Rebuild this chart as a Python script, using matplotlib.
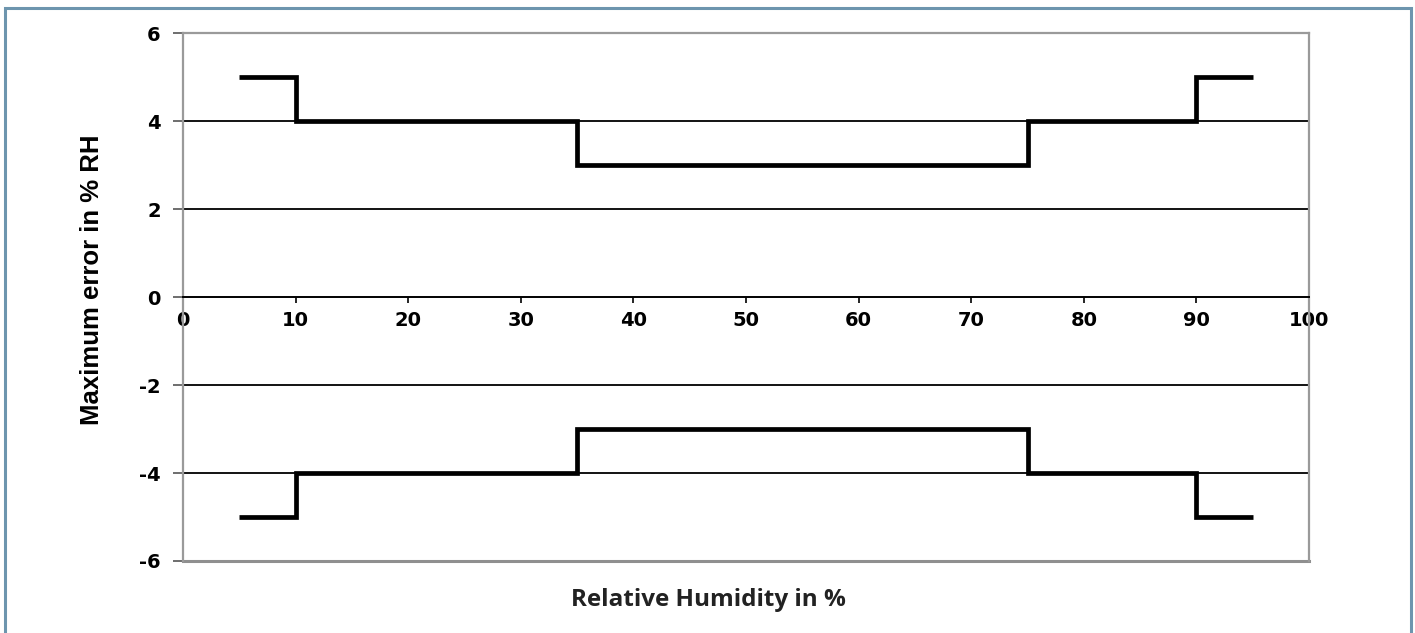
import matplotlib

matplotlib.use("Agg")
import matplotlib.pyplot as plt
from matplotlib.patches import Rectangle

# step edges (relative humidity, %) and max error (% RH) per segment
rh_edges = [5, 10, 35, 75, 90, 95]
err_upper = [5, 4, 3, 4, 5]
err_lower = [-5, -4, -3, -4, -5]

x_ticks = [0, 10, 20, 30, 40, 50, 60, 70, 80, 90, 100]
y_ticks = [-6, -4, -2, 0, 2, 4, 6]
grid_levels = [-4, -2, 2, 4]

W, H, DPI = 1415, 633, 100
fig = plt.figure(figsize=(W / DPI, H / DPI), dpi=DPI)
fig.patch.set_facecolor("white")

# outer panel border
fig.patches.append(
    Rectangle((5 / W, -0.05), 1406 / W, 1.05 - 8 / H, transform=fig.transFigure,
              fill=False, edgecolor="#6d95ae", linewidth=2.2)
)

ax = fig.add_axes([183 / W, 1 - 561 / H, (1309 - 183) / W, (561 - 33) / H])
ax.set_xlim(0, 100)
ax.set_ylim(-6, 6)

for y in grid_levels:
    ax.axhline(y, color="black", linewidth=1.3, zorder=1)

ax.stairs(err_upper, rh_edges, baseline=None, color="black", linewidth=3.4, zorder=3)
ax.stairs(err_lower, rh_edges, baseline=None, color="black", linewidth=3.4, zorder=3)

# frame: grey box, x axis drawn through zero
for side in ("top", "left", "right"):
    ax.spines[side].set_color("#9a9a9a")
    ax.spines[side].set_linewidth(1.6)
ax.spines["bottom"].set_position(("data", 0))
ax.spines["bottom"].set_color("black")
ax.spines["bottom"].set_linewidth(1.4)
ax.axhline(-6, color="#8f8f8f", linewidth=2.2, clip_on=False, zorder=2)

tick_font = {"family": "DejaVu Sans", "weight": "bold", "size": 14}
ax.set_xticks(x_ticks)
ax.set_xticklabels([str(v) for v in x_ticks], fontdict=tick_font)
ax.set_yticks(y_ticks)
ax.set_yticklabels([str(v) for v in y_ticks], fontdict=tick_font)
ax.tick_params(axis="x", direction="out", length=4, width=1.2, color="black", pad=6)
ax.tick_params(axis="y", direction="out", length=7, width=1.2, color="#555555", pad=9)

fig.text(92 / W, 1 - 280 / H, "Maximum error in % RH", rotation=90,
         ha="center", va="center", family="Liberation Sans", weight="bold", size=18.5)
fig.text(708 / W, 1 - 600 / H, "Relative Humidity in %",
         ha="center", va="center", family="Open Sans", weight="bold", size=17.5,
         color="#222222")

fig.savefig("out.png", dpi=DPI, facecolor="white")
